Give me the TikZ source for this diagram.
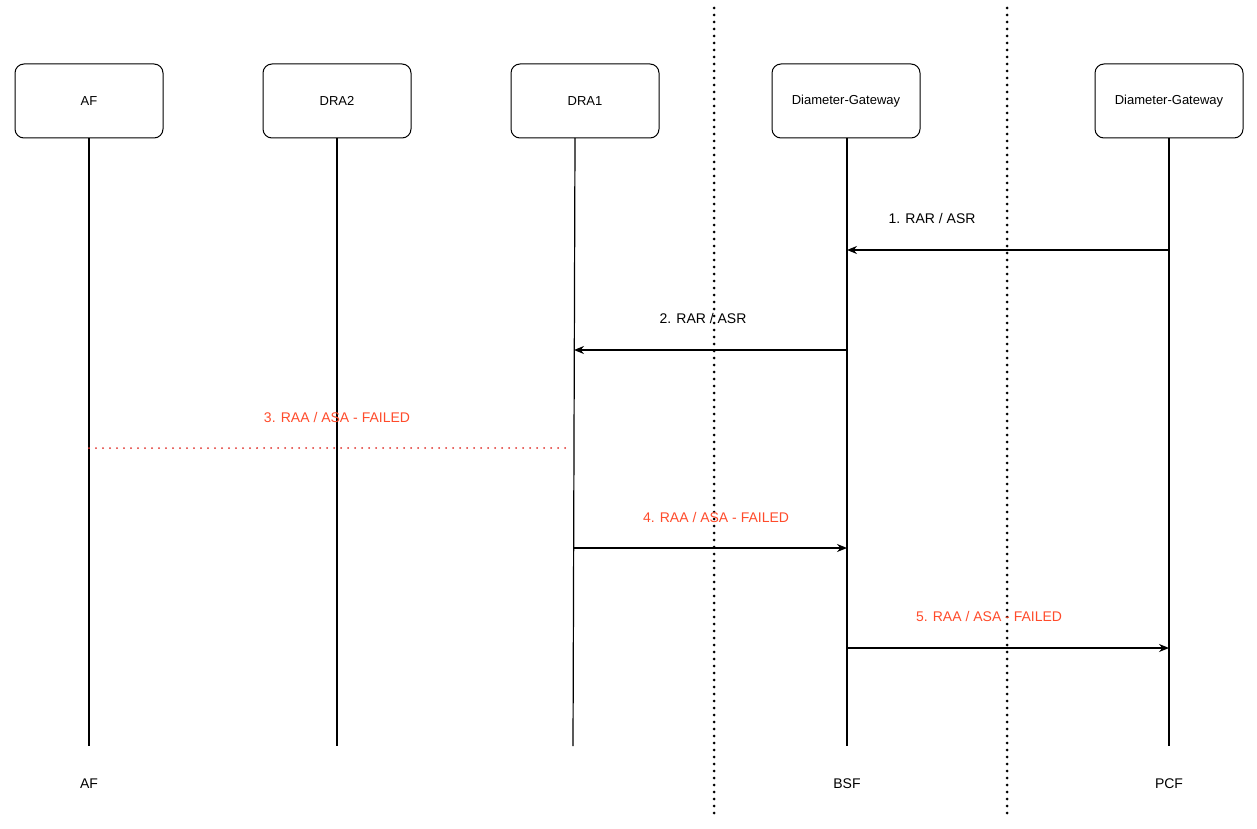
\documentclass[tikz,border=0pt]{standalone}
\usepackage{fontspec}
\setmainfont{Liberation Sans}
\usetikzlibrary{arrows.meta}
\definecolor{failred}{HTML}{FF4B2B}
\definecolor{dotred}{HTML}{E0302A}
\tikzset{
  entity/.style={draw, line width=1pt, rounded corners=9pt, minimum width=148pt, minimum height=74pt, font=\fontsize{13}{15}\selectfont},
  lbl/.style={font=\fontsize{14}{16}\selectfont},
  msg/.style={-{Stealth[length=10pt,width=8pt]}},
  sep/.style={line width=3pt, dash pattern=on 0pt off 7pt, line cap=round}
}
\begin{document}
\begin{tikzpicture}[x=1pt,y=-1pt,every path/.append style={line width=1.2pt}]
            \useasboundingbox (0,0) rectangle (1257,829);
            % Entities
            \node[entity] (af) at (89,101) {AF};
            \node[entity] (dra2) at (337,101) {DRA2};
            \node[entity] (dra1) at (585,101) {DRA1};
            \node[entity] (dgw) at (846,101) {Diameter-Gateway};
            \node[entity] (pgw) at (1169,101) {Diameter-Gateway};

            % Lifelines
            \coordinate (afE) at (89,746);
            \coordinate (dra2E) at (337,746);
            \coordinate (dra1S) at (575,138);
            \coordinate (dra1E) at (573,746);
            \coordinate (bsfS) at (847,138);
            \coordinate (bsfE) at (847,746);
            \coordinate (pcfS) at (1169,138);
            \coordinate (pcfE) at (1169,746);
            \draw (af) -- (afE);
            \draw (dra2) -- (dra2E);
            \draw (dra1S) -- (dra1E);
            \draw (bsfS) -- (bsfE);
            \draw (pcfS) -- (pcfE);

            % Bottom labels
            \node[lbl] (afL) at (89,784) {AF};
            \node[lbl] (bsfL) at (847,784) {BSF};
            \node[lbl] (pcfL) at (1169,784) {PCF};

            % Separators
            \coordinate (s1a) at (714,8);
            \coordinate (s1b) at (714,815);
            \coordinate (s2a) at (1007,8);
            \coordinate (s2b) at (1007,815);
            \draw[sep] (s1a) -- (s1b);
            \draw[sep] (s2a) -- (s2b);

            % Messages
            \coordinate (m1a) at (1169,250);
            \coordinate (m1b) at (847,250);
            \draw[msg] (m1a) -- (m1b);
            \node[lbl] (t1) at (932,218) {1. RAR / ASR};

            \coordinate (m2a) at (847,350);
            \coordinate (m2b) at (574,350);
            \draw[msg] (m2a) -- (m2b);
            \node[lbl] (t2) at (703,318) {2. RAR / ASR};

            \coordinate (m3a) at (89,448);
            \coordinate (m3b) at (570,448);
            \draw[dotred, line width=2pt, dash pattern=on 0pt off 7pt, line cap=round] (m3a) -- (m3b);
            \node[lbl, text=failred] (t3) at (337,417) {3. RAA / ASA - FAILED};

            \coordinate (m4a) at (574,548);
            \coordinate (m4b) at (847,548);
            \draw[msg] (m4a) -- (m4b);
            \node[lbl, text=failred] (t4) at (716,517) {4. RAA / ASA - FAILED};

            \coordinate (m5a) at (847,648);
            \coordinate (m5b) at (1169,648);
            \draw[msg] (m5a) -- (m5b);
            \node[lbl, text=failred] (t5) at (989,616) {5. RAA / ASA - FAILED};
\end{tikzpicture}
\end{document}
